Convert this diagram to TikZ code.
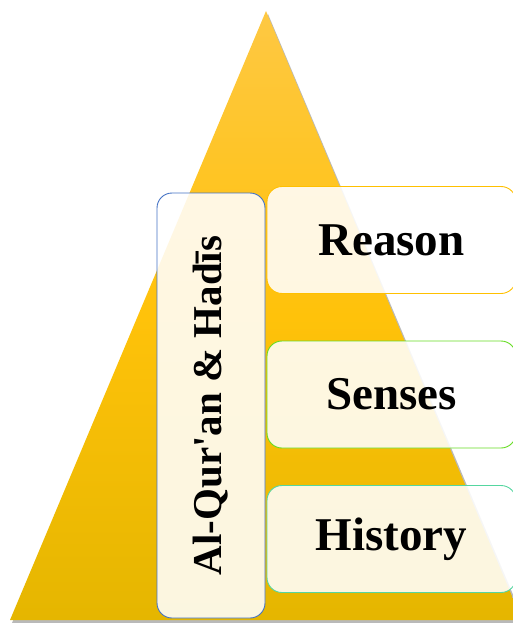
\documentclass[tikz,border=0pt]{standalone}
\usepackage{fontspec}
\setmainfont{Liberation Serif}
\newfontfamily\plainserif{Liberation Serif}
\usepackage{tikz}
\usetikzlibrary{positioning}
\definecolor{goldtop}{HTML}{FEC843}
\definecolor{goldmid}{HTML}{FFC20A}
\definecolor{goldbot}{HTML}{E5B600}
\definecolor{blueedge}{HTML}{4472C4}
\definecolor{goldedge}{HTML}{FFC000}
\definecolor{limeedge}{HTML}{66DD22}
\definecolor{tealedge}{HTML}{55D6A0}

\begin{document}
\begin{tikzpicture}[x=1pt,y=-1pt,
  panel/.style={draw, line width=0.9pt, fill=white, fill opacity=0.88,
                text opacity=1, rounded corners=15pt, inner sep=0pt,
                font=\fontsize{47}{50}\selectfont\bfseries}]
  \useasboundingbox (0,0) rectangle (512,623);
  % pyramid, with a soft shadow under it
  \fill[black!50, opacity=0.55] (268,14) -- (525,623) -- (12,623) -- cycle;
  \shade[top color=goldtop, bottom color=goldbot, middle color=goldmid]
    (266,11) -- (522,620) -- (10,620) -- cycle;
  % source box on the left
  \node[panel, draw=blueedge, rotate=90, minimum width=425, minimum height=108,
        font=\plainserif\fontsize{41}{44}\selectfont\bfseries]
    (quran) at (211,405.5) {Al-Qur'an \& Hadīs};
  % the three ways of knowing
  \foreach \nm/\yc/\clr/\txt in {
    reason/240/goldedge/Reason,
    senses/394.5/limeedge/Senses,
    history/539/tealedge/History
  }{
    \node[panel, draw=\clr, minimum width=249, minimum height=107]
      (\nm) at (391.5,\yc) {\txt};
  }
\end{tikzpicture}
\end{document}
